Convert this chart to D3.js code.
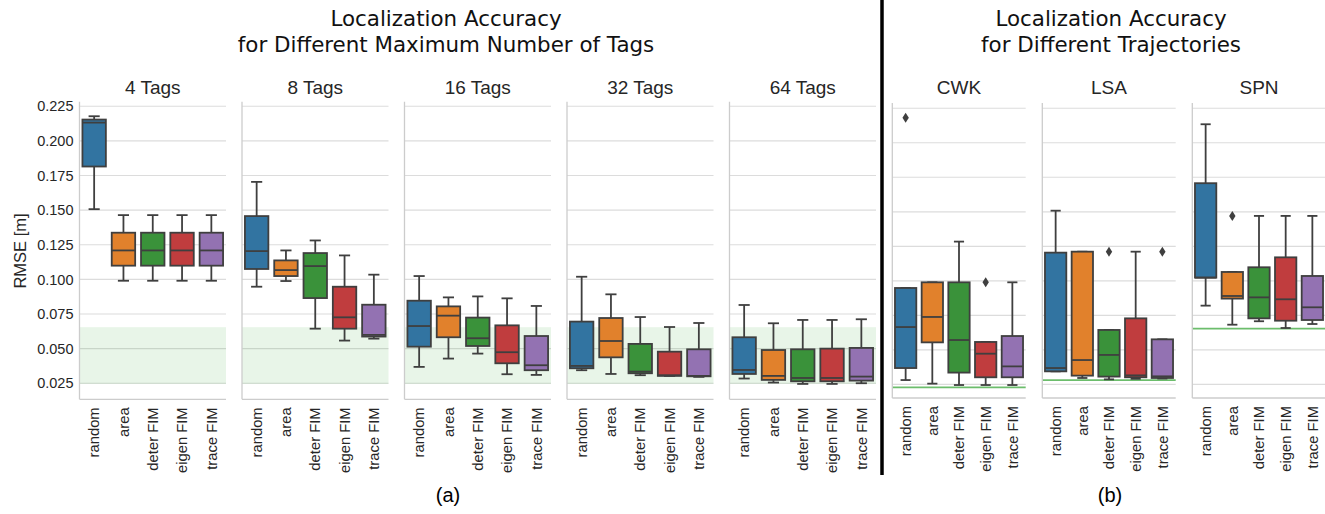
<!DOCTYPE html>
<html>
<head>
<meta charset="utf-8">
<script src="https://cdn.jsdelivr.net/npm/d3@7"></script>
<style>
  body { margin: 0; background: #fff; }
  svg { display: block; }
  .tick text { font-family: "Liberation Sans", Arial, sans-serif; }
</style>
</head>
<body>
<svg id="chart" width="1325" height="514"></svg>
<script>
// categories
const methods = ["random", "area", "deter FIM", "eigen FIM", "trace FIM"];
const colors = ["#3274a1", "#e1812c", "#3a923a", "#c03d3e", "#9372b2"];
const tagTitles = ["4 Tags", "8 Tags", "16 Tags", "32 Tags", "64 Tags"];
const trajTitles = ["CWK", "LSA", "SPN"];
const yTicks = [0.025, 0.05, 0.075, 0.1, 0.125, 0.15, 0.175, 0.2, 0.225];

// [whisker low, q1, median, q3, whisker high] per method
const tags4 = [
  [0.1507, 0.1815, 0.2132, 0.2154, 0.2178],
  [0.0990, 0.1099, 0.1209, 0.1337, 0.1464],
  [0.0990, 0.1099, 0.1209, 0.1337, 0.1464],
  [0.0990, 0.1099, 0.1209, 0.1337, 0.1464],
  [0.0990, 0.1099, 0.1209, 0.1337, 0.1464]
];
const tags8 = [
  [0.0947, 0.1075, 0.1204, 0.1457, 0.1704],
  [0.0988, 0.1024, 0.1067, 0.1137, 0.1209],
  [0.0644, 0.0865, 0.1096, 0.1190, 0.1281],
  [0.0558, 0.0644, 0.0726, 0.0947, 0.1173],
  [0.0572, 0.0587, 0.0599, 0.0817, 0.1034]
];
const tags16 = [
  [0.0368, 0.0514, 0.0663, 0.0846, 0.1024],
  [0.0428, 0.0582, 0.0738, 0.0805, 0.0870],
  [0.0464, 0.0519, 0.0575, 0.0724, 0.0877],
  [0.0315, 0.0394, 0.0474, 0.0668, 0.0863],
  [0.0310, 0.0344, 0.0380, 0.0591, 0.0808]
];
const tags32 = [
  [0.0344, 0.0358, 0.0375, 0.0695, 0.1019],
  [0.0317, 0.0437, 0.0555, 0.0721, 0.0892],
  [0.0308, 0.0322, 0.0334, 0.0534, 0.0728],
  [0.0303, 0.0303, 0.0308, 0.0478, 0.0656],
  [0.0296, 0.0300, 0.0303, 0.0495, 0.0685]
];
const tags64 = [
  [0.0284, 0.0317, 0.0346, 0.0582, 0.0815],
  [0.0255, 0.0274, 0.0303, 0.0490, 0.0683],
  [0.0245, 0.0264, 0.0288, 0.0495, 0.0707],
  [0.0245, 0.0264, 0.0288, 0.0500, 0.0707],
  [0.0250, 0.0269, 0.0298, 0.0505, 0.0712]
];
const trajCWK = [
  [0.0281, 0.0368, 0.0665, 0.0948, 0.0948],
  [0.0255, 0.0554, 0.0738, 0.0989, 0.0989],
  [0.0245, 0.0335, 0.0571, 0.0989, 0.1284],
  [0.0245, 0.0301, 0.0472, 0.0557, 0.0557],
  [0.0245, 0.0301, 0.0380, 0.0600, 0.0989]
];
const trajLSA = [
  [0.0344, 0.0344, 0.0368, 0.1204, 0.1508],
  [0.0296, 0.0313, 0.0426, 0.1211, 0.1211],
  [0.0286, 0.0306, 0.0463, 0.0644, 0.0644],
  [0.0290, 0.0301, 0.0315, 0.0728, 0.1211],
  [0.0292, 0.0296, 0.0308, 0.0576, 0.0576]
];
const trajSPN = [
  [0.0820, 0.1023, 0.1023, 0.1707, 0.2134],
  [0.0682, 0.0871, 0.0890, 0.1064, 0.1064],
  [0.0707, 0.0728, 0.0880, 0.1098, 0.1470],
  [0.0658, 0.0711, 0.0866, 0.1170, 0.1470],
  [0.0687, 0.0716, 0.0808, 0.1035, 0.1470]
];
// outliers: [method index, value]
const outCWK = [[0, 0.2182], [3, 0.0989]];
const outLSA = [[2, 0.1211], [4, 0.1211]];
const outSPN = [[1, 0.1470]];
// reference accuracy
const tagBand = [0.0245, 0.0655];
const trajLine = [0.0228, 0.0281, 0.0653];

const tagData = [tags4, tags8, tags16, tags32, tags64];
const trajData = [trajCWK, trajLSA, trajSPN];
const trajOut = [outCWK, outLSA, outSPN];

const svg = d3.select("#chart");
svg.append("rect").attr("width", 1325).attr("height", 514).attr("fill", "#fff");

const lineCol = "#3f3f3f";
const gridCol = "#dcdcdc";
const spineCol = "#cccccc";
const lw = 1.8;

const yLeft = d3.scaleLinear().domain([0.0134, 0.2283]).range([399.3, 101.7]);
const yRight = d3.scaleLinear().domain([0.0151, 0.2288]).range([398, 103]);

function drawPanel(x0, w, y, stats, title, opts) {
  const g = svg.append("g").attr("transform", "translate(" + x0 + ",0)");
  const x = d3.scaleBand().domain(methods).range([0, w]);
  const [y1, y0] = y.range();

  // grid
  g.selectAll(".grid").data(yTicks).enter().append("line")
    .attr("x1", 0).attr("x2", w)
    .attr("y1", d => y(d)).attr("y2", d => y(d))
    .attr("stroke", gridCol).attr("stroke-width", 1.2);

  if (opts.band) {
    g.append("rect")
      .attr("x", 0).attr("width", w)
      .attr("y", y(opts.band[1]))
      .attr("height", y(opts.band[0]) - y(opts.band[1]))
      .attr("fill", "#2ca02c").attr("fill-opacity", 0.11);
  }
  if (opts.line != null) {
    g.append("line")
      .attr("x1", 0).attr("x2", w)
      .attr("y1", y(opts.line)).attr("y2", y(opts.line))
      .attr("stroke", "#6cbd6c").attr("stroke-width", 1.8);
  }

  // spines
  g.append("line").attr("x1", 0).attr("x2", 0).attr("y1", y0).attr("y2", y1)
    .attr("stroke", spineCol).attr("stroke-width", 1.3);
  g.append("line").attr("x1", 0).attr("x2", w).attr("y1", y1).attr("y2", y1)
    .attr("stroke", spineCol).attr("stroke-width", 1.3);

  const bw = x.bandwidth() * 0.8;
  const cw = x.bandwidth() * 0.38;
  stats.forEach((s, i) => {
    const cx = x(methods[i]) + x.bandwidth() / 2;
    const b = g.append("g");
    // whiskers
    b.append("line").attr("x1", cx).attr("x2", cx).attr("y1", y(s[4])).attr("y2", y(s[3]))
      .attr("stroke", lineCol).attr("stroke-width", lw);
    b.append("line").attr("x1", cx).attr("x2", cx).attr("y1", y(s[1])).attr("y2", y(s[0]))
      .attr("stroke", lineCol).attr("stroke-width", lw);
    [s[0], s[4]].forEach(v => {
      b.append("line").attr("x1", cx - cw / 2).attr("x2", cx + cw / 2)
        .attr("y1", y(v)).attr("y2", y(v))
        .attr("stroke", lineCol).attr("stroke-width", lw);
    });
    b.append("rect")
      .attr("x", cx - bw / 2).attr("width", bw)
      .attr("y", y(s[3])).attr("height", Math.max(0.5, y(s[1]) - y(s[3])))
      .attr("fill", colors[i]).attr("stroke", lineCol).attr("stroke-width", lw);
    b.append("line").attr("x1", cx - bw / 2).attr("x2", cx + bw / 2)
      .attr("y1", y(s[2])).attr("y2", y(s[2]))
      .attr("stroke", lineCol).attr("stroke-width", lw);
  });

  if (opts.outliers) {
    opts.outliers.forEach(o => {
      const cx = x(methods[o[0]]) + x.bandwidth() / 2;
      const cy = y(o[1]);
      g.append("path")
        .attr("d", "M" + cx + "," + (cy - 5) + "L" + (cx + 3.2) + "," + cy + "L" + cx + "," + (cy + 5) + "L" + (cx - 3.2) + "," + cy + "Z")
        .attr("fill", lineCol);
    });
  }

  // x axis labels
  const xa = g.append("g").attr("transform", "translate(0," + y1 + ")")
    .call(d3.axisBottom(x).tickSize(0).tickPadding(0));
  xa.select(".domain").remove();
  xa.selectAll(".tick text")
    .attr("transform", "rotate(-90)")
    .attr("x", -8).attr("y", 0).attr("dy", "0.35em")
    .attr("text-anchor", "end")
    .attr("font-size", 14.8).attr("fill", "#262626");

  if (opts.yLabels) {
    const ya = g.append("g")
      .call(d3.axisLeft(y).tickValues(yTicks).tickFormat(d3.format(".3f")).tickSize(0).tickPadding(6));
    ya.select(".domain").remove();
    ya.selectAll(".tick text").attr("font-size", 14.5).attr("fill", "#262626");
  }

  g.append("text")
    .attr("x", w / 2).attr("y", 94)
    .attr("text-anchor", "middle")
    .attr("font-family", "Liberation Sans, Arial, sans-serif")
    .attr("font-size", 19).attr("fill", "#262626")
    .text(title);
}

tagData.forEach((d, i) => {
  drawPanel(79.5 + i * 162.5, 146.5, yLeft, d, tagTitles[i], { band: tagBand, yLabels: i === 0 });
});
trajData.forEach((d, i) => {
  drawPanel(892.3 + i * 150, 133.4, yRight, d, trajTitles[i], { line: trajLine[i], outliers: trajOut[i] });
});

// y label
svg.append("text")
  .attr("transform", "translate(26,251) rotate(-90)")
  .attr("text-anchor", "middle")
  .attr("font-family", "Liberation Sans, Arial, sans-serif")
  .attr("font-size", 16.5).attr("fill", "#262626")
  .text("RMSE [m]");

// divider
svg.append("line").attr("x1", 882).attr("x2", 882).attr("y1", 0).attr("y2", 475)
  .attr("stroke", "#000").attr("stroke-width", 3.5);

// main titles
function title2(cx, l1, l2) {
  const t = svg.append("text")
    .attr("text-anchor", "middle")
    .attr("font-family", "DejaVu Sans, sans-serif")
    .attr("font-size", 21.4).attr("fill", "#111");
  t.append("tspan").attr("x", cx).attr("y", 26).text(l1);
  t.append("tspan").attr("x", cx).attr("y", 52).text(l2);
}
title2(446, "Localization Accuracy", "for Different Maximum Number of Tags");
title2(1111, "Localization Accuracy", "for Different Trajectories");

svg.append("text").attr("x", 448).attr("y", 502).attr("text-anchor", "middle")
  .attr("font-family", "Liberation Sans, Arial, sans-serif").attr("font-size", 20)
  .text("(a)");
svg.append("text").attr("x", 1110).attr("y", 502).attr("text-anchor", "middle")
  .attr("font-family", "Liberation Sans, Arial, sans-serif").attr("font-size", 20)
  .text("(b)");
</script>
</body>
</html>
